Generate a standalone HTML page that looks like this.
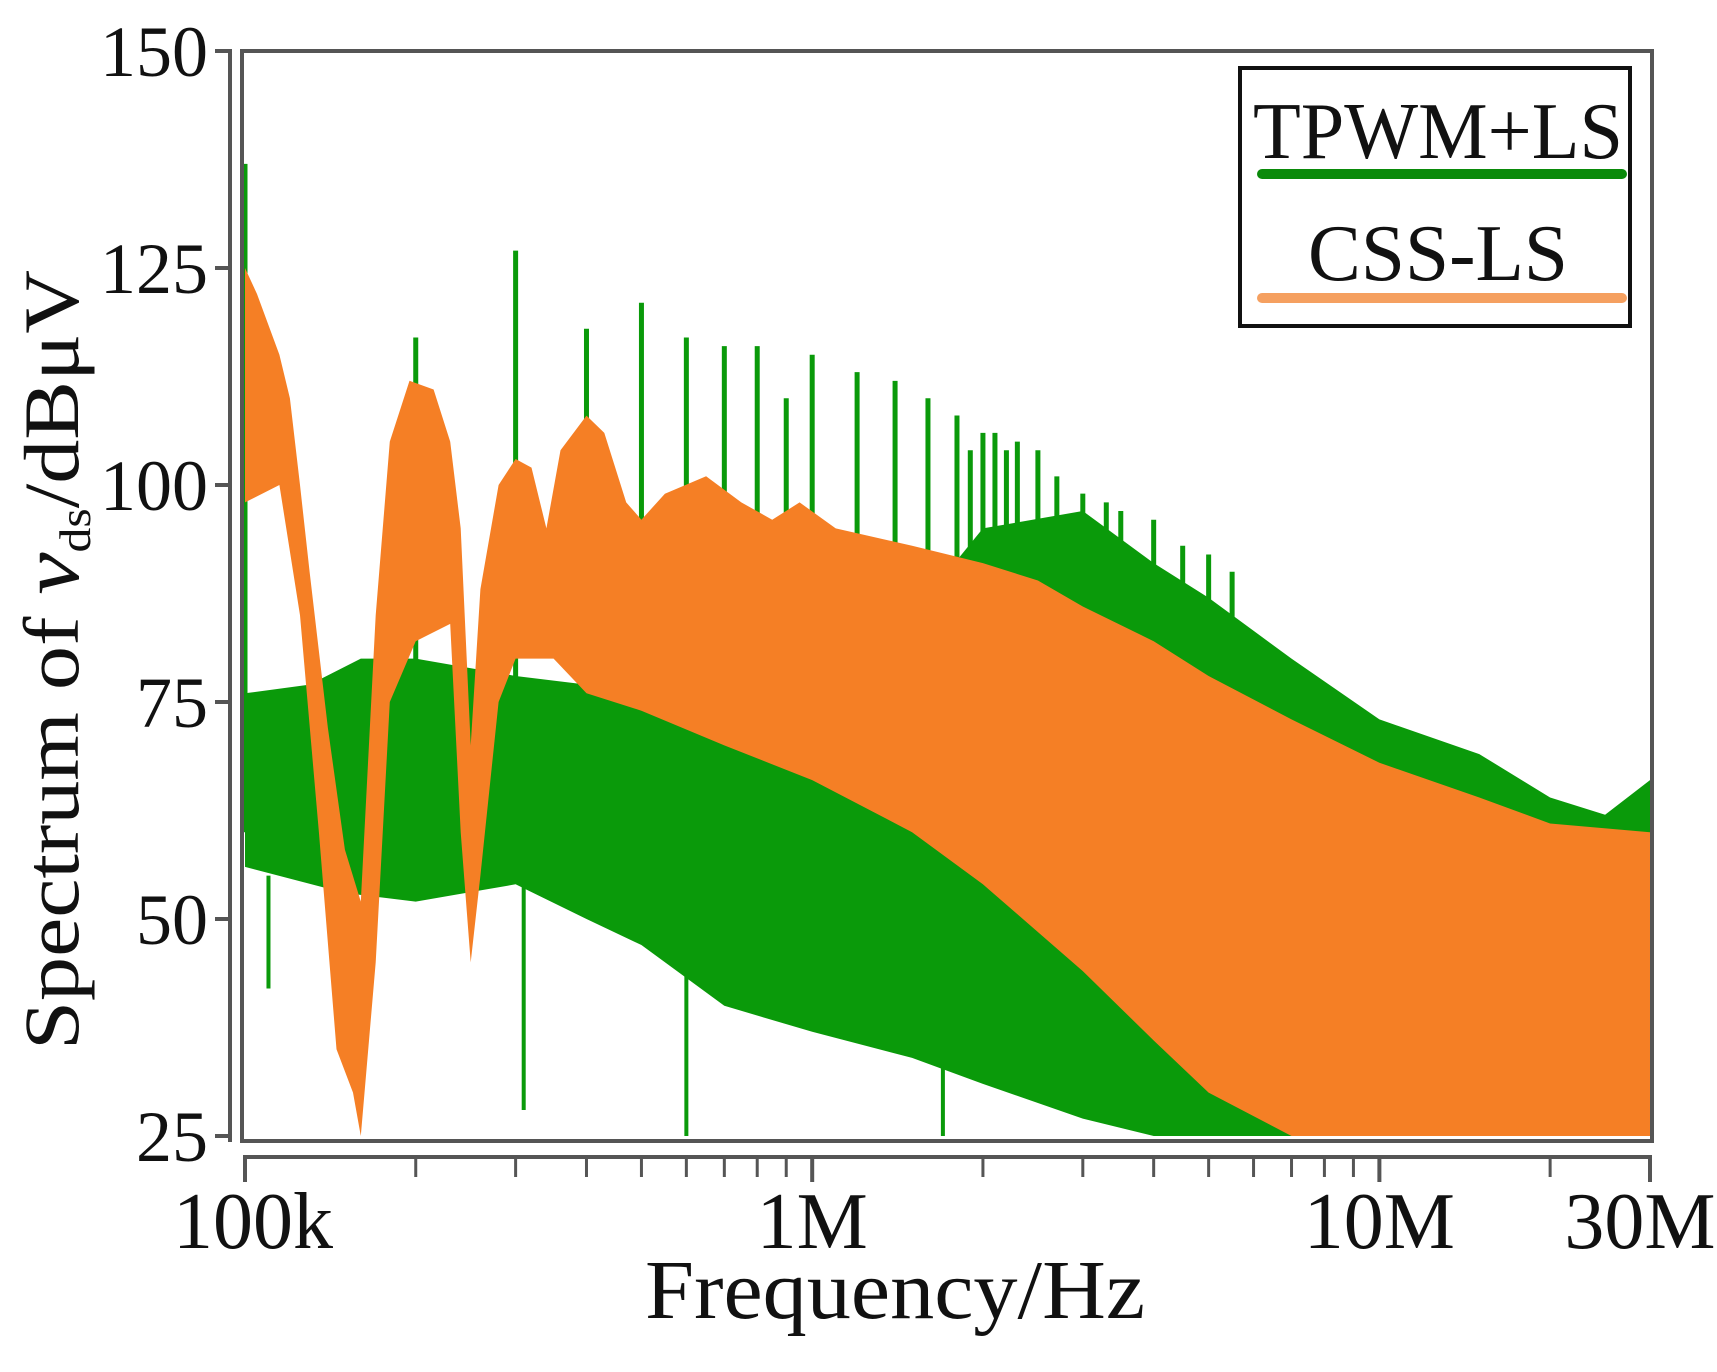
<!DOCTYPE html>
<html><head><meta charset="utf-8"><style>
html,body{margin:0;padding:0;background:#fff}
svg{display:block}
text{font-family:"Liberation Serif",serif;fill:#111}
</style></head><body>
<svg id="chart" width="1717" height="1372" viewBox="0 0 1717 1372">
<g id="bands"></g>
<rect x="242" y="51" width="1410" height="1090" fill="none" stroke="#555" stroke-width="4"/>
<line x1="230" y1="49" x2="230" y2="1142" stroke="#555" stroke-width="4"/>
<line x1="243" y1="1157" x2="1652" y2="1157" stroke="#555" stroke-width="4"/>
<g id="axes"></g>
<text x="895" y="1318" font-size="84" text-anchor="middle" textLength="500" lengthAdjust="spacingAndGlyphs">Frequency/Hz</text>
<text transform="translate(78,660) rotate(-90)" font-size="78" text-anchor="middle" textLength="780" lengthAdjust="spacingAndGlyphs">Spectrum of <tspan font-style="italic" font-size="84">v</tspan><tspan font-size="44" dy="12">ds</tspan><tspan dy="-12">/dBμV</tspan></text>
<g>
<rect x="1240" y="68" width="390" height="258" fill="#fff" stroke="#111" stroke-width="4"/>
<text x="1438" y="158" font-size="80" text-anchor="middle" textLength="370" lengthAdjust="spacingAndGlyphs">TPWM+LS</text>
<line x1="1262" y1="174" x2="1622" y2="174" stroke="#0a8a0a" stroke-width="10" stroke-linecap="round"/>
<text x="1438" y="280" font-size="80" text-anchor="middle" textLength="260" lengthAdjust="spacingAndGlyphs">CSS-LS</text>
<line x1="1262" y1="298" x2="1622" y2="298" stroke="#f5a060" stroke-width="10" stroke-linecap="round"/>
</g>
</svg>
<script>
// ---- data (frequency in Hz, level in dBuV) ----
const orangeTopF = [1e5,1.05e5,1.15e5,1.2e5,1.25e5,1.3e5,1.4e5,1.5e5,1.6e5,1.7e5,1.8e5,1.95e5,2.15e5,2.3e5,2.4e5,2.5e5,2.6e5,2.8e5,3e5,3.2e5,3.4e5,3.6e5,4e5,4.3e5,4.7e5,5e5,5.5e5,6.5e5,7.5e5,8.5e5,9.5e5,1.1e6,1.5e6,2e6,2.5e6,3e6,4e6,5e6,7e6,1e7,1.5e7,2e7,3e7];
const orangeTopV = [125,122,115,110,100,90,72,58,52,85,105,112,111,105,95,70,88,100,103,102,95,104,108,106,98,96,99,101,98,96,98,95,93,91,89,86,82,78,73,68,64,61,60];
const orangeLowF = [1e5,1.15e5,1.25e5,1.35e5,1.45e5,1.55e5,1.6e5,1.7e5,1.8e5,2e5,2.3e5,2.4e5,2.5e5,2.6e5,2.8e5,3e5,3.5e5,4e5,5e5,7e5,1e6,1.5e6,2e6,3e6,4e6,5e6,7e6,3e7];
const orangeLowV = [98,100,85,60,35,30,25,45,75,82,84,60,45,55,75,80,80,76,74,70,66,60,54,44,36,30,25,25];
const greenTopF = [1e5,1.3e5,1.6e5,2e5,3e5,4e5,5e5,7e5,1e6,1.5e6,2e6,3e6,4e6,5e6,7e6,1e7,1.5e7,2e7,2.5e7,3e7];
const greenTopV = [76,77,80,80,78,77,74,72,75,85,95,97,91,87,80,73,69,64,62,66];
const greenLowF = [1e5,1.5e5,2e5,3e5,4e5,5e5,7e5,1e6,1.5e6,2e6,3e6,4e6,5e6,3e7];
const greenLowV = [56,53,52,54,50,47,40,37,34,31,27,25,25,25];
const spikeF = [1e5,2e5,3e5,4e5,5e5,6e5,7e5,8e5,9e5,1e6,1.2e6,1.4e6,1.6e6,1.8e6,1.9e6,2e6,2.1e6,2.2e6,2.3e6,2.5e6,2.7e6,3e6,3.3e6,3.5e6,4e6,4.5e6,5e6,5.5e6];
const spikeV = [137,117,127,118,121,117,116,116,110,115,113,112,110,108,104,106,106,104,105,104,101,99,98,97,96,93,92,90];
const dipF = [1.1e5,3.1e5,6e5,1.7e6];
const dipV = [42,28,25,25];
const yTicks = [25,50,75,100,125,150];
const xMajor = [1e5,1e6,1e7,3e7];
const xMajorLabels = ["100k","1M","10M","30M"];
const xMinor = [2e5,3e5,4e5,5e5,6e5,7e5,8e5,9e5,2e6,3e6,4e6,5e6,6e6,7e6,8e6,9e6,2e7];

// ---- scales ----
const X0=245, X1=1650, Y150=51, PER_DB=8.68;
const xs = f => X0 + (Math.log10(f)-5)/(Math.log10(3e7)-5)*(X1-X0);
const ys = v => Y150 + (150-v)*PER_DB;
const NS="http://www.w3.org/2000/svg";
const bands=document.getElementById('bands'), axes=document.getElementById('axes');
function mk(tag,attrs,parent){const e=document.createElementNS(NS,tag);for(const k in attrs)e.setAttribute(k,attrs[k]);parent.appendChild(e);return e;}
function band(tf,tv,lf,lv){
  let pts=tf.map((f,i)=>xs(f).toFixed(1)+','+ys(tv[i]).toFixed(1));
  for(let i=lf.length-1;i>=0;i--)pts.push(xs(lf[i]).toFixed(1)+','+ys(lv[i]).toFixed(1));
  return pts.join(' ');
}
const g=mk('polygon',{points:band(greenTopF,greenTopV,greenLowF,greenLowV),fill:'#0a9a0a'},bands);


spikeF.forEach((f,i)=>{
  const l=mk('line',{x1:xs(f),x2:xs(f),y1:ys(spikeV[i]),y2:ys(60),stroke:'#0a9a0a','stroke-width':5},bands);
  
  
});
dipF.forEach((f,i)=>{
  const l=mk('line',{x1:xs(f),x2:xs(f),y1:ys(dipV[i]),y2:ys(55),stroke:'#0a9a0a','stroke-width':4},bands);
  
  
});
const o=mk('polygon',{points:band(orangeTopF,orangeTopV,orangeLowF,orangeLowV),fill:'#f57f25'},bands);


yTicks.forEach(v=>{
  const l=mk('line',{x1:215,x2:230,y1:ys(v),y2:ys(v),stroke:'#555','stroke-width':4},axes);
  
  
  const t=mk('text',{x:208,y:ys(v)+25,'font-size':72,'text-anchor':'end'},axes);
  t.textContent=v;
  
  
});
xMajor.forEach((f,i)=>{
  const l=mk('line',{x1:xs(f),x2:xs(f),y1:1157,y2:1182,stroke:'#555','stroke-width':4},axes);
  
  
  const t=mk('text',{x:xs(f)+(i===3?-10:(i===0?8:0)),y:1248,'font-size':80,'text-anchor':'middle'},axes);
  t.textContent=xMajorLabels[i];
  
  
});
xMinor.forEach(f=>{
  const l=mk('line',{x1:xs(f),x2:xs(f),y1:1157,y2:1177,stroke:'#555','stroke-width':3},axes);
  
  
});
</script>
</body></html>
